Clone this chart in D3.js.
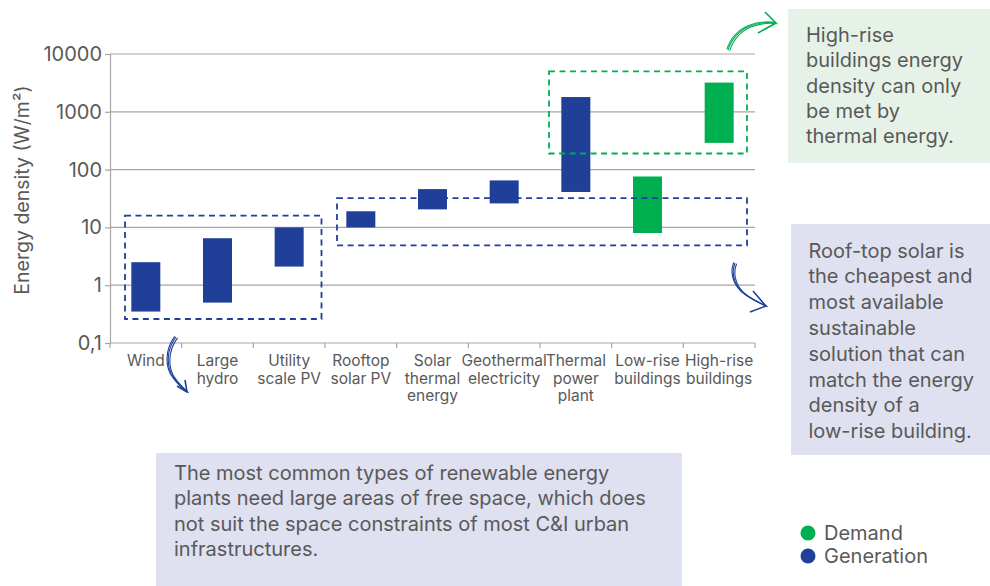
<!DOCTYPE html>
<html>
<head>
<meta charset="utf-8">
<script src="https://cdn.jsdelivr.net/npm/d3@7"></script>
<style>
  body { margin: 0; background: #fff; }
  svg text { font-family: Inter, "Noto Sans", sans-serif; }
</style>
</head>
<body>
<div id="chart"></div>
<script>
// data
const categories = ['Wind', 'Large hydro', 'Utility scale PV', 'Rooftop solar PV', 'Solar thermal energy',
  'Geothermal electricity', 'Thermal power plant', 'Low-rise buildings', 'High-rise buildings']
const labelLines = [['Wind'], ['Large', 'hydro'], ['Utility', 'scale PV'], ['Rooftop', 'solar PV'],
  ['Solar', 'thermal', 'energy'], ['Geothermal', 'electricity'], ['Thermal', 'power', 'plant'],
  ['Low-rise', 'buildings'], ['High-rise', 'buildings']]
const lows  = [0.35, 0.5, 2.1, 10, 20.5, 26, 41, 8, 290]
const highs = [2.5, 6.5, 10, 19, 46, 65, 1800, 76, 3200]
const kinds = ['Generation', 'Generation', 'Generation', 'Generation', 'Generation',
  'Generation', 'Generation', 'Demand', 'Demand']
const yTicks = [0.1, 1, 10, 100, 1000, 10000]
const yTickLabels = ['0,1', '1', '10', '100', '1000', '10000']
const legendItems = ['Demand', 'Generation']

// dashed frames: first / last category and value range
const frameFrom = ['Wind', 'Rooftop solar PV', 'Thermal power plant']
const frameTo   = ['Utility scale PV', 'High-rise buildings', 'High-rise buildings']
const frameLo   = [0.26, 4.9, 190]
const frameHi   = [16, 32, 5000]
const frameKind = ['Generation', 'Generation', 'Demand']

const notes = [
  ['High-rise', 'buildings energy', 'density can only', 'be met by', 'thermal energy.'],
  ['Roof-top solar is', 'the cheapest and', 'most available', 'sustainable', 'solution that can',
    'match the energy', 'density of a', 'low-rise building.'],
  ['The most common types of renewable energy', 'plants need large areas of free space, which does',
    'not suit the space constraints of most C&I urban', 'infrastructures.']
]

const color = { Generation: '#1f3f99', Demand: '#00b050' }
const textColor = '#595959'
const gridColor = '#a6a6a6'

const width = 990, height = 586
const svg = d3.select('#chart').append('svg')
  .attr('width', width).attr('height', height)

const x = d3.scaleBand().domain(categories).range([110, 755])
const y = d3.scaleLog().domain([0.1, 10000]).range([343, 54])
const bw = x.bandwidth()
const barW = 29

// gridlines
svg.append('g').selectAll('line')
  .data(yTicks.slice(1))
  .join('line')
    .attr('x1', 110).attr('x2', 755)
    .attr('y1', d => y(d)).attr('y2', d => y(d))
    .attr('stroke', gridColor).attr('stroke-width', 1.2)

// y axis
const yAxis = svg.append('g')
  .attr('transform', 'translate(110,0)')
  .call(d3.axisLeft(y).tickValues(yTicks).tickFormat((d, i) => yTickLabels[i]).tickSize(5).tickPadding(3))
yAxis.select('.domain').attr('stroke', gridColor).attr('stroke-width', 1.2)
yAxis.selectAll('.tick line').attr('stroke', gridColor).attr('stroke-width', 1.2)
yAxis.selectAll('.tick text')
  .attr('fill', textColor).attr('font-size', 20).attr('font-family', 'Inter')

// x axis line + ticks at band edges
svg.append('line')
  .attr('x1', 110).attr('x2', 755).attr('y1', y(0.1)).attr('y2', y(0.1))
  .attr('stroke', gridColor).attr('stroke-width', 1.2)
svg.append('g').selectAll('line')
  .data(categories.map(c => x(c)).concat([x.range()[1]]))
  .join('line')
    .attr('x1', d => d).attr('x2', d => d)
    .attr('y1', y(0.1)).attr('y2', y(0.1) + 5)
    .attr('stroke', gridColor).attr('stroke-width', 1.2)

// category labels
const lab = svg.append('g').selectAll('text')
  .data(categories)
  .join('text')
    .attr('text-anchor', 'middle')
    .attr('font-size', 15.5)
    .attr('fill', textColor)
lab.selectAll('tspan')
  .data((d, i) => labelLines[i].map(t => ({ t, c: d })))
  .join('tspan')
    .attr('x', d => x(d.c) + bw / 2)
    .attr('y', (d, j) => 366 + j * 17.7)
    .text(d => d.t)

// y axis title
svg.append('text')
  .attr('transform', 'translate(29,190) rotate(-90)')
  .attr('text-anchor', 'middle')
  .attr('font-size', 19.5)
  .attr('fill', textColor)
  .text('Energy density (W/m²)')

// bars
svg.append('g').selectAll('rect')
  .data(categories)
  .join('rect')
    .attr('x', d => x(d) + bw / 2 - barW / 2)
    .attr('width', barW)
    .attr('y', (d, i) => y(highs[i]))
    .attr('height', (d, i) => y(lows[i]) - y(highs[i]))
    .attr('fill', (d, i) => color[kinds[i]])

// dashed frames
const padL = [15, 12, 9], padR = [3.5, 8, 8]
svg.append('g').selectAll('rect')
  .data(frameFrom)
  .join('rect')
    .attr('x', (d, i) => x(d) + padL[i])
    .attr('width', (d, i) => x(frameTo[i]) + bw - padR[i] - x(d) - padL[i])
    .attr('y', (d, i) => y(frameHi[i]))
    .attr('height', (d, i) => y(frameLo[i]) - y(frameHi[i]))
    .attr('fill', 'none')
    .attr('stroke', (d, i) => color[frameKind[i]])
    .attr('stroke-width', 1.8)
    .attr('stroke-dasharray', '6,4.5')

// note boxes
const noteBox = [
  { x: 788, y: 9, w: 210, h: 154, fill: '#e6f2e8', tx: 806, ty: 42, lh: 25.3 },
  { x: 791, y: 224, w: 210, h: 231, fill: '#dfe0f0', tx: 808.5, ty: 257.5, lh: 25.8 },
  { x: 156, y: 453, w: 526, h: 140, fill: '#dfe0f0', tx: 174, ty: 479.5, lh: 25.5 }
]
noteBox.forEach((b, i) => {
  svg.append('rect')
    .attr('x', b.x).attr('y', b.y).attr('width', b.w).attr('height', b.h)
    .attr('fill', b.fill)
  svg.append('text')
    .attr('font-size', 20)
    .attr('fill', textColor)
    .selectAll('tspan')
    .data(notes[i])
    .join('tspan')
      .attr('x', b.tx)
      .attr('y', (d, j) => b.ty + j * b.lh)
      .text(d => d)
})

// hand drawn arrows
const arrows = [
  { c: color.Generation, p: 'M176,337 C166,350 166,368 174,378 C178,384 183,388 187,392',
    h: 'M177,386 L187,392 L185,380' },
  { c: color.Generation, p: 'M735,263 C730,275 736,288 746,295 C753,300 760,303 766,306',
    h: 'M753,291 L766,306 L750,312' },
  { c: color.Demand, p: 'M728,50 C732,38 740,30 750,26 C760,22 768,22 776,23',
    h: 'M765,12 L776,23 L758,33' }
]
arrows.forEach(a => {
  ;[0, 1.6, -1.2].forEach(o => {
    svg.append('path')
      .attr('d', a.p)
      .attr('transform', `translate(${o},${o * 0.5})`)
      .attr('fill', 'none').attr('stroke', a.c).attr('stroke-width', 1.1)
  })
  svg.append('path').attr('d', a.h)
    .attr('fill', 'none').attr('stroke', a.c).attr('stroke-width', 1.6)
    .attr('stroke-linejoin', 'round')
})

// legend
const leg = svg.append('g').selectAll('g')
  .data(legendItems)
  .join('g')
    .attr('transform', (d, i) => `translate(808,${533 + i * 23})`)
leg.append('circle').attr('r', 7.5).attr('fill', d => color[d])
leg.append('text')
  .attr('x', 16).attr('y', 7)
  .attr('font-size', 20)
  .attr('fill', textColor)
  .text(d => d)
</script>
</body>
</html>
